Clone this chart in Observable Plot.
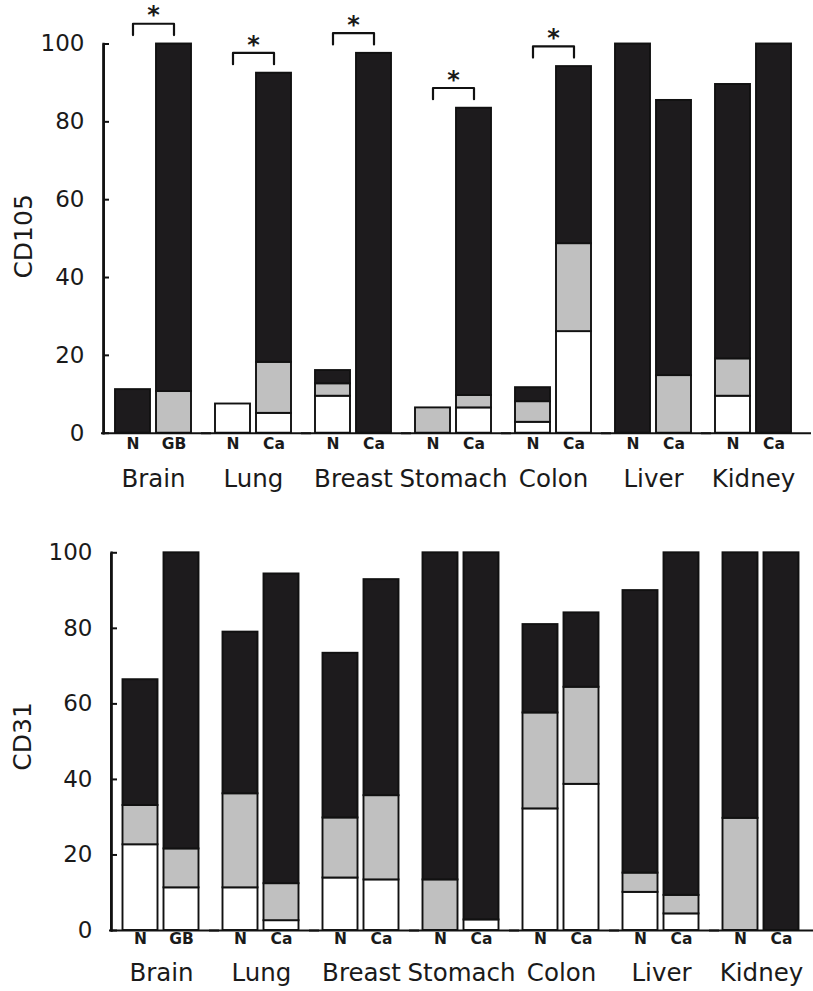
<!DOCTYPE html>
<html>
<head>
<meta charset="utf-8">
<script src="https://cdn.jsdelivr.net/npm/d3@7"></script>
<script src="https://cdn.jsdelivr.net/npm/@observablehq/plot@0.6"></script>
<style>
  html, body { margin: 0; padding: 0; background: #ffffff; }
  #chart svg { display: block; }
</style>
</head>
<body>
<div id="chart"></div>
<script>
// ---- categories ----
const organs = ["Brain", "Lung", "Breast", "Stomach", "Colon", "Liver", "Kidney"];
const normalLabel = "N";
const tumorLabels = ["GB", "Ca", "Ca", "Ca", "Ca", "Ca", "Ca"];
const levels = ["weak", "moderate", "strong"];           // white, gray, black segments
const levelColors = ["#ffffff", "#c0c0c0", "#1d1b1d"];
const yDomain = [0, 100];
const yTicks = [0, 20, 40, 60, 80, 100];

// ---- CD105 (bars in order: Brain N, Brain GB, Lung N, Lung Ca, ...) ----
const cd105White = [0, 0, 7.5, 5.1, 9.5, 0, 0, 6.5, 2.8, 26.1, 0, 0, 9.5, 0];
const cd105Gray  = [0, 10.7, 0, 13.1, 3.2, 0, 6.5, 3.2, 5.3, 22.6, 0, 14.8, 9.6, 0];
const cd105Black = [11.2, 89.3, 0, 74.3, 3.4, 97.6, 0, 73.8, 3.6, 45.5, 100, 70.7, 70.5, 100];
const cd105Significant = ["Brain", "Lung", "Breast", "Stomach", "Colon"];

// ---- CD31 ----
const cd31White = [22.7, 11.3, 11.3, 2.6, 13.9, 13.4, 0, 2.8, 32.2, 38.7, 10.1, 4.4, 0, 0];
const cd31Gray  = [10.4, 10.3, 24.9, 9.8, 15.9, 22.3, 13.4, 0, 25.4, 25.7, 5.1, 4.9, 29.7, 0];
const cd31Black = [33.3, 78.4, 42.8, 82, 43.6, 57.2, 86.6, 97.2, 23.4, 19.7, 74.8, 90.7, 70.3, 100];
const cd31Significant = [];

const ink = "#111111";
const padInner = 0.143, padOuter = 0.268;

function panel(o) {
  const segments = [], bars = [];
  organs.forEach((organ, g) => {
    ["N", "T"].forEach((slot, s) => {
      const i = 2 * g + s;
      const vals = [o.white[i], o.gray[i], o.black[i]];
      bars.push({organ, slot, label: s ? tumorLabels[g] : normalLabel, total: d3.sum(vals)});
      levels.forEach((level, k) => { if (vals[k] > 0) segments.push({organ, slot, level, value: vals[k]}); });
    });
  });
  const path = [], stars = [];
  o.significant.forEach(organ => {
    const top = d3.max(bars.filter(b => b.organ === organ), b => b.total) + 5.2;
    path.push({organ, slot: "N", y: top - 2.9}, {organ, slot: "N", y: top},
              {organ, slot: "T", y: top}, {organ, slot: "T", y: top - 2.9});
    stars.push({organ, y: top});
  });
  // y-axis line drawn in the first facet, moved from the first band centre to the facet's left edge
  const facetWidth = (813 - o.marginLeft - o.marginRight) / organs.length;
  const step = facetWidth / (2 - padInner + 2 * padOuter);
  const toEdge = -(padOuter * step + (1 - padInner) * step / 2);
  const axisLine = [{organ: organs[0], slot: "N", y1: yDomain[0], y2: yDomain[1]}];
  return Plot.plot({
    width: 813,
    height: o.height,
    marginLeft: o.marginLeft,
    marginRight: o.marginRight,
    marginTop: o.marginTop,
    marginBottom: o.marginBottom,
    style: {fontFamily: "DejaVu Sans", fontSize: "23px", color: "#1a1a1a", background: "#ffffff", overflow: "visible"},
    fx: {domain: organs, padding: 0, label: null},
    x: {domain: ["N", "T"], paddingInner: padInner, paddingOuter: padOuter, axis: null},
    y: {domain: yDomain, label: null},
    color: {domain: levels, range: levelColors},
    marks: [
      Plot.barY(segments, {fx: "organ", x: "slot", y: "value", fill: "level", order: levels,
                           stroke: ink, strokeWidth: 1.9}),
      Plot.ruleY([0], {stroke: ink, strokeWidth: 2, insetLeft: -2, insetRight: -8}),
      Plot.link(axisLine, {fx: "organ", x1: "slot", x2: "slot", y1: "y1", y2: "y2", dx: toEdge,
                           stroke: ink, strokeWidth: 2.4}),
      Plot.frame({anchor: "left", facetAnchor: "left", stroke: ink, strokeWidth: 2.4}),
      Plot.axisY({ticks: yTicks, tickSize: 6, dx: 6, tickFormat: () => "", label: null, stroke: ink, strokeWidth: 2}),
      Plot.axisY({ticks: yTicks, tickSize: 0, tickPadding: 19, fontSize: 23, label: null}),
      Plot.text(bars, {fx: "organ", x: "slot", text: "label", frameAnchor: "bottom", dy: o.slotDy,
                       fontWeight: "bold", fontSize: 15.5}),
      Plot.axisFx({anchor: "bottom", tickSize: 0, tickPadding: o.organPad, fontSize: 24.5, label: null}),
      Plot.text([o.label], {frameAnchor: "left", rotate: -90, dx: o.labelDx, dy: o.labelDy,
                            fontSize: 25, facetAnchor: "left"}),
      Plot.line(path, {fx: "organ", x: "slot", y: "y", z: "organ", stroke: ink, strokeWidth: 2.2}),
      Plot.text(stars, {fx: "organ", y: "y", text: d => "*", dy: -8, fontSize: 24, fontWeight: "bold"})
    ]
  });
}

const chart = document.getElementById("chart");
chart.append(panel({
  label: "CD105", white: cd105White, gray: cd105Gray, black: cd105Black, significant: cd105Significant,
  height: 497, marginLeft: 101, marginRight: 8.5, marginTop: 43.5, marginBottom: 64.3,
  slotDy: 15.5, organPad: 36, labelDx: -80, labelDy: 40
}));
chart.append(panel({
  label: "CD31", white: cd31White, gray: cd31Gray, black: cd31Black, significant: cd31Significant,
  height: 494, marginLeft: 109.5, marginRight: 0, marginTop: 55.3, marginBottom: 61,
  slotDy: 13, organPad: 33, labelDx: -88.5, labelDy: 29
}));
</script>
</body>
</html>
